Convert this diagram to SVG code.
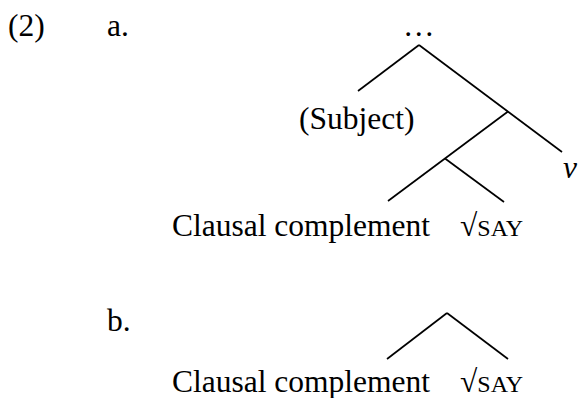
<svg xmlns="http://www.w3.org/2000/svg" width="578" height="398" viewBox="0 0 578 398">
<style>
text{font-family:"Liberation Serif","Times New Roman",serif;font-size:31.5px;fill:#000}
.sc{font-size:24px}
.it{font-style:italic}
line{stroke:#000;stroke-width:1.7;stroke-linecap:butt}
</style>
<rect width="578" height="398" fill="#fff"/>
<g id="labels">
<text x="8" y="36">(2)</text>
<text x="107" y="36">a.</text>
<text x="107" y="331">b.</text>
</g>
<g id="connectors">
<line x1="419" y1="45" x2="358" y2="91"/>
<line x1="419" y1="45" x2="562" y2="152"/>
<line x1="508" y1="111.5" x2="388" y2="201"/>
<line x1="445" y1="158.5" x2="504" y2="202"/>
<line x1="447" y1="313" x2="387" y2="359"/>
<line x1="447" y1="313" x2="508" y2="359"/>
</g>
<g id="a-top"><text x="403" y="36">…</text></g>
<g id="a-subject"><text x="299" y="129">(Subject)</text></g>
<g id="a-v"><text class="it" x="563" y="178">v</text></g>
<g id="a-clausal"><text x="172" y="236">Clausal complement</text></g>
<g id="a-say"><text x="460" y="236">√<tspan class="sc">SAY</tspan></text></g>
<g id="b-clausal"><text x="172" y="392">Clausal complement</text></g>
<g id="b-say"><text x="460" y="392">√<tspan class="sc">SAY</tspan></text></g>
</svg>
